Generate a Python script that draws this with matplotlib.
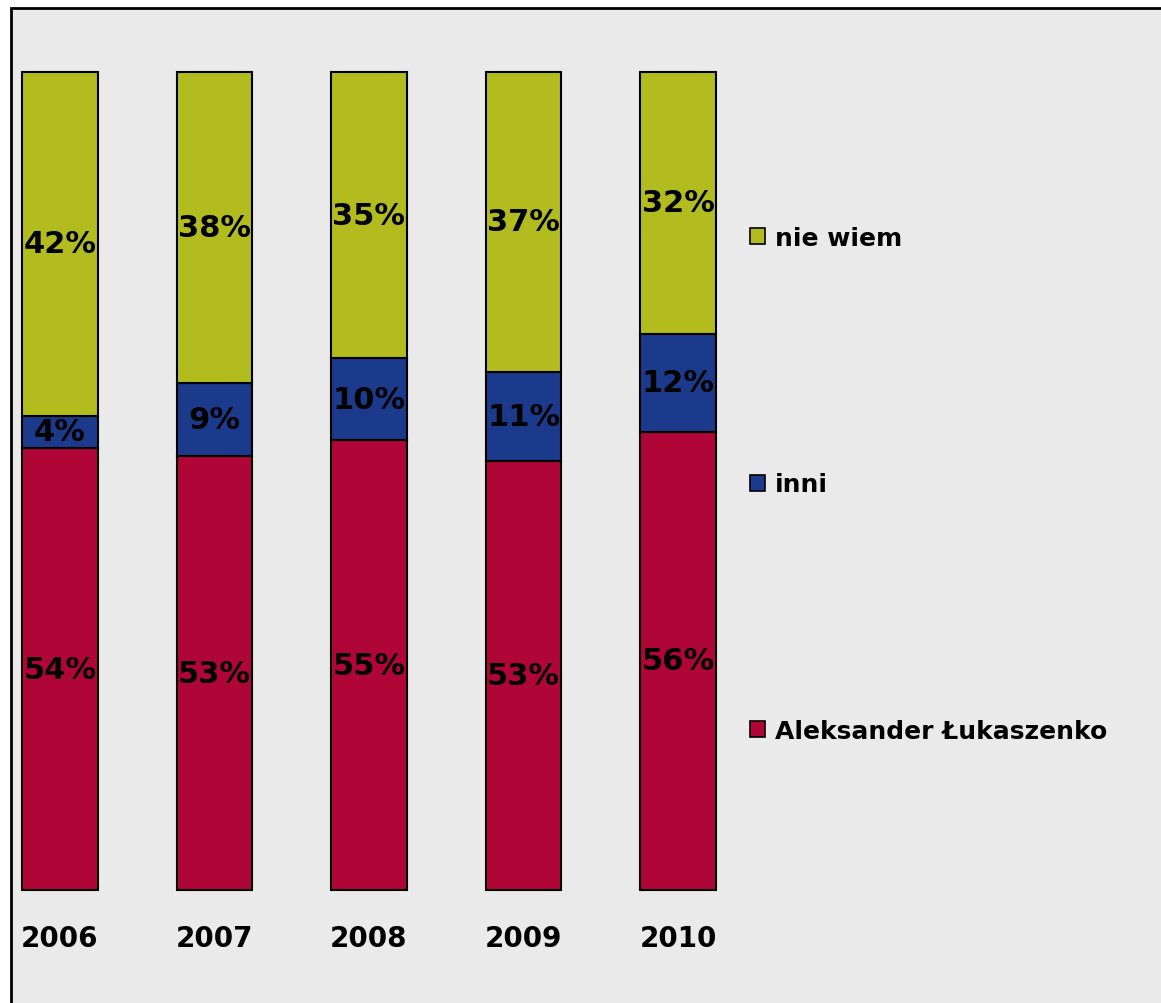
import numpy as np
import matplotlib
matplotlib.use("Agg")
from matplotlib import pyplot as plt
from matplotlib.patches import Rectangle, Patch

years = ["2006", "2007", "2008", "2009", "2010"]
lukaszenko = [54, 53, 55, 53, 56]
inni = [4, 9, 10, 11, 12]
nie_wiem = [42, 38, 35, 37, 32]

series = [
    ("Aleksander Łukaszenko", lukaszenko, "#B00537"),
    ("inni", inni, "#1B3A8B"),
    ("nie wiem", nie_wiem, "#B3BC1F"),
]

BG = "#EAEAEA"
W, H = 1161, 1004


def main():
    plt.rcParams["font.family"] = ["DejaVu Sans"]
    fig = plt.figure(figsize=(W / 100, H / 100), dpi=100, facecolor="white")

    # grey panel with a black frame on the left and top
    fig.patches.append(Rectangle((11 / W, -0.01), 1.0, 1 - 9 / H + 0.01,
                                 transform=fig.transFigure, facecolor=BG,
                                 edgecolor="black", linewidth=2, zorder=-10))

    left, right = 22 / W, 716 / W
    bottom, top = 1 - 891 / H, 1 - 73 / H
    ax = fig.add_axes([left, bottom, right - left, top - bottom])
    ax.set_facecolor("none")

    x = np.arange(len(years))
    width = 0.49
    totals = np.sum([s[1] for s in series], axis=0)
    base = np.zeros(len(years))
    for name, vals, color in series:
        frac = np.array(vals) / totals
        bars = ax.bar(x, frac, width, bottom=base, color=color,
                      edgecolor="black", linewidth=1.5, label=name)
        for b in bars:
            b.set_clip_on(False)
        for xi, b, f, v in zip(x, base, frac, vals):
            ax.text(xi, b + f / 2, f"{v}%", ha="center", va="center",
                    fontsize=22, fontweight="bold", color="black")
        base += frac

    ax.set_xlim(-width / 2, len(years) - 1 + width / 2)
    ax.set_ylim(0, 1)
    ax.axis("off")

    for xi, yr in zip(x, years):
        ax.text(xi, -0.0585, yr, ha="center", va="center", fontsize=20,
                fontweight="bold", clip_on=False)

    handles = [Patch(facecolor=c, edgecolor="black", linewidth=1.2, label=n)
               for n, _, c in reversed(series)]
    fig.legend(handles=handles, loc="upper left",
               bbox_to_anchor=(750 / W, 1 - 227 / H), frameon=False,
               prop={"size": 18, "weight": "bold"}, handlelength=0.6,
               handleheight=0.6, handletextpad=0.4, labelspacing=8.9,
               borderpad=0, borderaxespad=0)

    fig.savefig("out.png", dpi=100, facecolor="white")


if __name__ == "__main__":
    main()
